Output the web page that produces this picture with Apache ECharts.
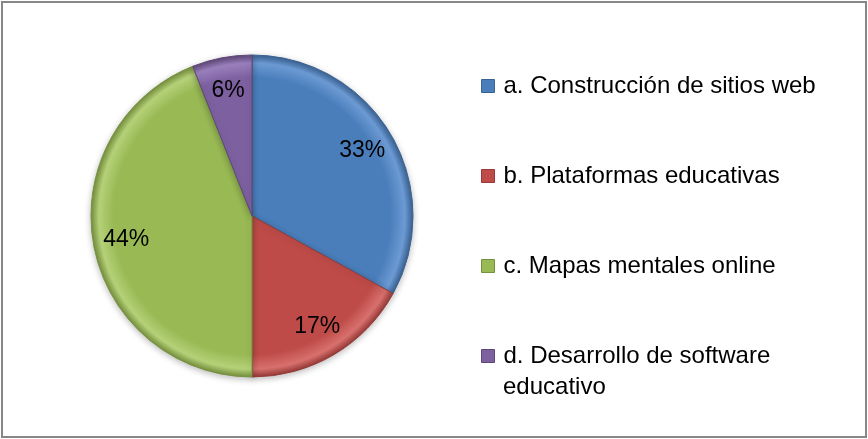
<!DOCTYPE html>
<html>
<head>
<meta charset="utf-8">
<script src="https://cdn.jsdelivr.net/npm/echarts@6/dist/echarts.min.js"></script>
<style>
  html, body { margin: 0; padding: 0; background: #ffffff; }
  #chart { width: 868px; height: 439px; }
</style>
</head>
<body>
<div id="chart"></div>
<script>
// Categories and their shares (percent)
const categories = [
  'a. Construcción de sitios web',
  'b. Plataformas educativas',
  'c. Mapas mentales online',
  'd. Desarrollo de software educativo'
];
const shares = [33, 17, 44, 6];

// Slice colours: base, rim highlight, edge
const baseColors = ['#4a7ebb', '#be4b48', '#98b954', '#7d60a0'];
const lightColors = ['#6c9ad3', '#d8706d', '#b5d178', '#9a7fbd'];
const edgeColors = ['#3a6394', '#963a38', '#77913f', '#5f4879'];

const FONT = '"Liberation Sans", Arial, sans-serif';
const CX = 252, CY = 216, R = 161;

function sliceFill(i) {
  return {
    type: 'radial', x: CX, y: CY, r: R, global: true,
    colorStops: [
      { offset: 0, color: baseColors[i] },
      { offset: 0.86, color: baseColors[i] },
      { offset: 0.95, color: lightColors[i] },
      { offset: 1, color: edgeColors[i] }
    ]
  };
}

const chart = echarts.init(document.getElementById('chart'), null, { renderer: 'canvas' });

const pieData = categories.map((name, i) => ({
  name, value: shares[i],
  itemStyle: { color: sliceFill(i), borderColor: edgeColors[i], borderWidth: 1 }
}));

const labelData = categories.map((name, i) => ({ name, value: shares[i] }));

chart.setOption({
  animation: false,
  backgroundColor: '#ffffff',
  legend: {
    orient: 'vertical',
    left: 481,
    top: 73,
    padding: 0,
    itemWidth: 13,
    itemHeight: 13,
    itemGap: 64,
    icon: 'rect',
    selectedMode: false,
    textStyle: { fontFamily: FONT, fontSize: 24, color: '#000000', lineHeight: 26, padding: [0, 0, 0, 4] },
    data: categories.map((name, i) => ({
      name,
      itemStyle: { color: baseColors[i], borderColor: edgeColors[i], borderWidth: 1 }
    })),
    formatter: name => name === categories[3] ? 'd. Desarrollo de software' : name
  },
  graphic: [
    {
      type: 'rect', silent: true,
      shape: { x: 2, y: 2, width: 864, height: 435 },
      style: { fill: 'none', stroke: '#878787', lineWidth: 2 }
    },
    {
      type: 'text', silent: true, left: 503, top: 375,
      style: { text: 'educativo', font: '24px ' + FONT, fill: '#000000' }
    }
  ],
  series: [
    {
      type: 'pie',
      center: [CX, CY],
      radius: [0, R],
      startAngle: 90,
      clockwise: true,
      silent: true,
      label: { show: false },
      labelLine: { show: false },
      itemStyle: { shadowBlur: 6, shadowOffsetY: 2, shadowColor: 'rgba(0,0,0,0.25)' },
      data: pieData
    },
    {
      type: 'pie',
      center: [CX, CY],
      radius: [89, R],
      startAngle: 90,
      clockwise: true,
      silent: true,
      itemStyle: { color: 'rgba(0,0,0,0)', borderWidth: 0 },
      label: {
        show: true,
        position: 'inside',
        formatter: '{c}%',
        fontFamily: FONT,
        fontSize: 23,
        color: '#000000'
      },
      labelLine: { show: false },
      data: labelData
    }
  ]
});
</script>
</body>
</html>
